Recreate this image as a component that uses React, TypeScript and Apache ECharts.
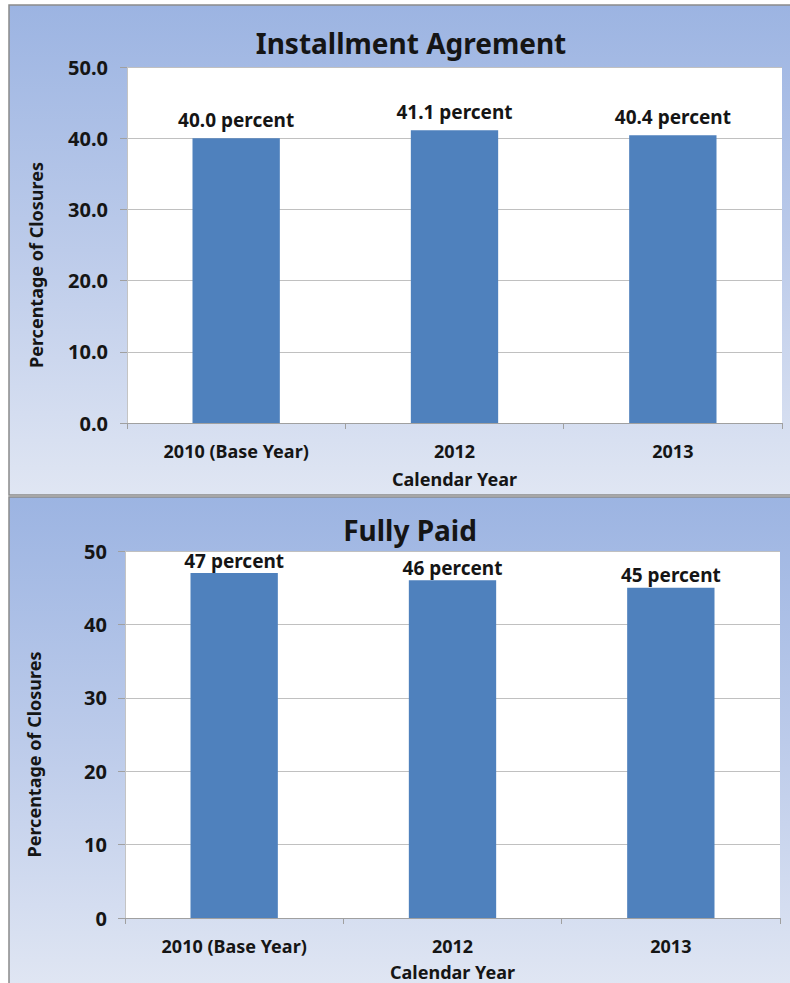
import React, { useEffect, useRef } from "react";
import * as echarts from "echarts";

// Chart data
const categories = ["2010 (Base Year)", "2012", "2013"];
const installmentValues = [40.0, 41.1, 40.4];
const fullyPaidValues = [47, 46, 45];
const installmentTitle = "Installment Agrement";
const fullyPaidTitle = "Fully Paid";
const xAxisName = "Calendar Year";
const yAxisName = "Percentage of Closures";

const FONT = "'Noto Sans', 'Open Sans', sans-serif";
const TEXT = "#151515";
const BAR = "#4f81bd";

function panelGradient() {
  return new echarts.graphic.LinearGradient(0, 0, 0, 1, [
    { offset: 0, color: "#9cb4e2" },
    { offset: 0.5, color: "#bccbea" },
    { offset: 1, color: "#e0e6f3" },
  ]);
}

function xAxisFor(gridIndex: number, nameGap: number) {
  return {
    type: "category",
    gridIndex,
    data: categories,
    name: xAxisName,
    nameLocation: "middle",
    nameGap,
    nameTextStyle: { fontFamily: FONT, fontWeight: "bold", fontSize: 18, color: TEXT },
    axisLine: { show: true, lineStyle: { color: "#a0a0a0", width: 1 } },
    axisTick: { show: true, length: 6, lineStyle: { color: "#a0a0a0" } },
    axisLabel: { margin: 19, fontFamily: FONT, fontWeight: "bold", fontSize: 18, color: TEXT },
    splitLine: { show: false },
  };
}

function yAxisFor(gridIndex: number, decimals: number, margin: number) {
  return {
    type: "value",
    gridIndex,
    min: 0,
    max: 50,
    interval: 10,
    name: yAxisName,
    nameLocation: "middle",
    nameGap: 82,
    nameRotate: 90,
    nameTextStyle: {
      fontFamily: FONT,
      fontWeight: "bold",
      fontSize: 18,
      color: TEXT,
      padding: [0, 40, 0, 0],
    },
    axisLine: { show: true, lineStyle: { color: "#c4c4c4", width: 1 } },
    axisTick: { show: true, length: 7, lineStyle: { color: "#a0a0a0" } },
    axisLabel: {
      margin,
      fontFamily: FONT,
      fontWeight: "bold",
      fontSize: 20,
      color: TEXT,
      formatter: (v: number) => v.toFixed(decimals),
    },
    splitLine: { show: true, lineStyle: { color: "#c0c0c0", width: 1 } },
  };
}

function barSeries(index: number, values: number[], decimals: number, distance: number) {
  return {
    type: "bar",
    xAxisIndex: index,
    yAxisIndex: index,
    data: values,
    barWidth: "40%",
    itemStyle: { color: BAR },
    label: {
      show: true,
      position: "top",
      distance,
      fontFamily: FONT,
      fontWeight: "bold",
      fontSize: 19,
      color: TEXT,
      formatter: (p: any) => `${Number(p.value).toFixed(decimals)} percent`,
    },
  };
}

export default function App() {
  const ref = useRef<HTMLDivElement>(null);

  useEffect(() => {
    if (!ref.current) return;
    const chart = echarts.init(ref.current, undefined, { renderer: "svg" });
    chart.setOption({
      animation: false,
      backgroundColor: "#ffffff",
      graphic: [
        {
          type: "rect",
          z: -10,
          shape: { x: 9, y: 5, width: 790, height: 490 },
          style: { fill: panelGradient(), stroke: "#8a8a8a", lineWidth: 1.5 },
        },
        {
          type: "rect",
          z: -10,
          shape: { x: 9, y: 497, width: 790, height: 490 },
          style: { fill: panelGradient(), stroke: "#8a8a8a", lineWidth: 1.5 },
        },
      ],
      title: [
        {
          text: installmentTitle,
          left: 406,
          top: 24,
          textAlign: "center",
          textStyle: { fontFamily: FONT, fontWeight: "bold", fontSize: 28, color: TEXT },
        },
        {
          text: fullyPaidTitle,
          left: 405,
          top: 511,
          textAlign: "center",
          textStyle: { fontFamily: FONT, fontWeight: "bold", fontSize: 28, color: TEXT },
        },
      ],
      grid: [
        {
          left: 127,
          top: 67,
          width: 655,
          height: 356,
          show: true,
          backgroundColor: "#ffffff",
          borderWidth: 0,
        },
        {
          left: 125,
          top: 551,
          width: 655,
          height: 367,
          show: true,
          backgroundColor: "#ffffff",
          borderWidth: 0,
        },
      ],
      xAxis: [xAxisFor(0, 47), xAxisFor(1, 45)],
      yAxis: [yAxisFor(0, 1, 19), yAxisFor(1, 0, 18)],
      series: [
        barSeries(0, installmentValues, 1, 9),
        barSeries(1, fullyPaidValues, 0, 3),
      ],
    });
    return () => chart.dispose();
  }, []);

  return (
    <div
      ref={ref}
      style={{ position: "absolute", left: 0, top: 0, width: 790, height: 983 }}
    />
  );
}
